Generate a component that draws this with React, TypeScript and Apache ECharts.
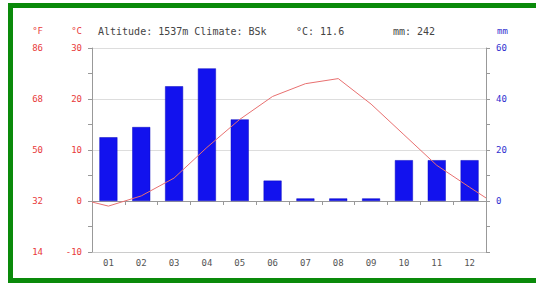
import React, { useEffect, useRef } from "react";
import * as echarts from "echarts";

const months = ["01", "02", "03", "04", "05", "06", "07", "08", "09", "10", "11", "12"];
const precipitation = [25, 29, 45, 52, 32, 8, 1, 1, 1, 16, 16, 16];
const temperature = [-1, 1, 4.5, 10.5, 16, 20.5, 23, 24, 19, 13, 7, 2.7];
const tempEdgeStart = -0.2;
const tempEdgeEnd = 0.6;
const titleParts = ["Altitude: 1537m Climate: BSk", "°C: 11.6", "mm: 242"];

const MONO = "DejaVu Sans Mono";

export default function App() {
  const ref = useRef<HTMLDivElement>(null);
  useEffect(() => {
    if (!ref.current) return;
    const chart = echarts.init(ref.current, null, { renderer: "svg" });
    const lineData: number[][] = [[0, tempEdgeStart]];
    temperature.forEach((t, i) => lineData.push([i + 0.5, t]));
    lineData.push([months.length, tempEdgeEnd]);
    const red = "#e83a3a";
    const blue = "#3030d0";
    chart.setOption({
      animation: false,
      backgroundColor: "#fff",
      grid: { left: 92, right: 50, top: 48, bottom: 32, containLabel: false },
      xAxis: [
        {
          type: "category",
          data: months,
          axisLine: { lineStyle: { color: "#999" } },
          axisTick: { show: true, length: 4, lineStyle: { color: "#999" } },
          axisLabel: { color: "#555", fontSize: 9, fontFamily: MONO, margin: 6 },
          splitLine: { show: false },
        },
        { type: "value", min: 0, max: months.length, show: false },
      ],
      yAxis: [
        {
          type: "value",
          min: -10,
          max: 30,
          interval: 10,
          position: "left",
          axisLine: { show: true, lineStyle: { color: "#999" } },
          axisTick: { show: true, length: 4, lineStyle: { color: "#999" } },
          minorTick: { show: true, splitNumber: 2, length: 4, lineStyle: { color: "#999" } },
          splitLine: { show: true, lineStyle: { color: ["#ccc", "#888", "#ddd", "#ddd", "#ddd"], width: 1 } },
          axisLabel: { color: red, fontSize: 9, fontFamily: MONO, margin: 10 },
        },
        {
          type: "value",
          min: 14,
          max: 86,
          interval: 18,
          position: "left",
          offset: 40,
          axisLine: { show: false },
          axisTick: { show: false },
          splitLine: { show: false },
          axisLabel: { color: red, fontSize: 9, fontFamily: MONO, margin: 9 },
        },
        {
          type: "value",
          min: -20,
          max: 60,
          interval: 20,
          position: "right",
          axisLine: { show: true, lineStyle: { color: "#999" } },
          axisTick: { show: true, length: 4, lineStyle: { color: "#999" } },
          minorTick: { show: true, splitNumber: 2, length: 4, lineStyle: { color: "#999" } },
          splitLine: { show: false },
          axisLabel: {
            color: blue,
            fontSize: 9,
            fontFamily: MONO,
            margin: 10,
            formatter: (v: number) => (v < 0 ? "" : String(v)),
          },
        },
      ],
      series: [
        {
          type: "bar",
          data: precipitation,
          xAxisIndex: 0,
          yAxisIndex: 2,
          barWidth: 18,
          itemStyle: { color: "#1212ee", borderColor: "#0a0ac0", borderWidth: 0.5 },
        },
        {
          type: "line",
          data: lineData,
          xAxisIndex: 1,
          yAxisIndex: 0,
          symbol: "none",
          lineStyle: { color: "#e87070", width: 1 },
        },
      ],
      graphic: [
        {
          type: "rect",
          shape: { x: 10.5, y: 5.5, width: 540, height: 275 },
          style: { fill: "none", stroke: "#0a8a0a", lineWidth: 5 },
          silent: true,
        },
        { type: "text", x: 43, y: 31, style: { text: "°F", fill: red, font: `9px '${MONO}'`, align: "right", verticalAlign: "middle" } },
        { type: "text", x: 82, y: 31, style: { text: "°C", fill: red, font: `9px '${MONO}'`, align: "right", verticalAlign: "middle" } },
        { type: "text", x: 497, y: 31, style: { text: "mm", fill: blue, font: `9px '${MONO}'`, align: "left", verticalAlign: "middle" } },
        { type: "text", x: 98, y: 31, style: { text: titleParts[0], fill: "#444", font: `10px '${MONO}'`, align: "left", verticalAlign: "middle" } },
        { type: "text", x: 296, y: 31, style: { text: titleParts[1], fill: "#444", font: `10px '${MONO}'`, align: "left", verticalAlign: "middle" } },
        { type: "text", x: 393, y: 31, style: { text: titleParts[2], fill: "#444", font: `10px '${MONO}'`, align: "left", verticalAlign: "middle" } },
      ],
    });
    return () => chart.dispose();
  }, []);
  return (
    <div
      ref={ref}
      style={{ position: "fixed", left: 0, top: 0, width: 536, height: 284, background: "#fff" }}
    />
  );
}
